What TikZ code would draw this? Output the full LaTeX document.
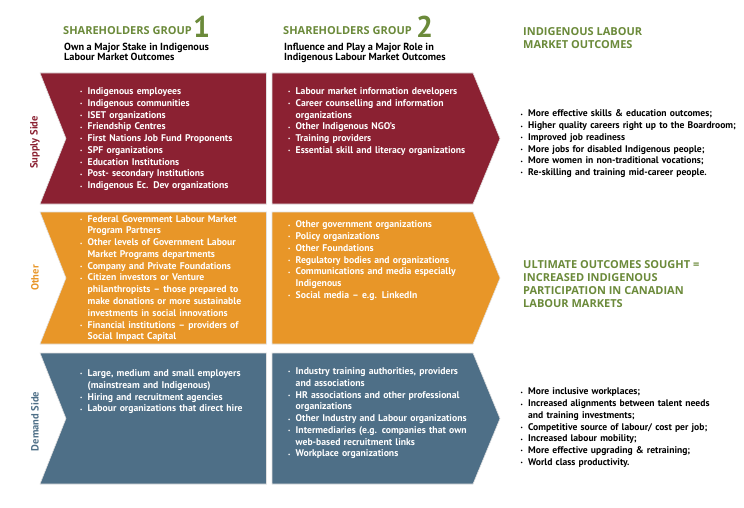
\documentclass[tikz,border=0pt]{standalone}
\usepackage{fontspec}
\setmainfont{PT Sans}
\newfontfamily\headfont{Open Sans}
\definecolor{supplyred}{RGB}{139,33,50}
\definecolor{otherorange}{RGB}{232,150,40}
\definecolor{demandblue}{RGB}{78,111,135}
\definecolor{headgreen}{RGB}{107,138,58}
\newcommand{\itm}{\par\noindent\hangindent=7.5pt\hangafter=1\makebox[7.5pt][l]{\raisebox{.6pt}{\tiny\textbullet}}}

\begin{document}
\begin{tikzpicture}[x=1pt,y=-1pt,
    panel/.style={draw=black!12,line width=0.6pt},
    grouphead/.style={anchor=base west,inner sep=0,text=headgreen,font=\headfont\bfseries\fontsize{11}{13}\selectfont},
    groupnum/.style={anchor=base west,inner sep=0,text=headgreen,font=\bfseries\fontsize{30}{30}\selectfont},
    groupsub/.style={anchor=north west,inner sep=0,align=left,font=\bfseries\fontsize{10.3}{10.7}\selectfont},
    sidelabel/.style={rotate=90,inner sep=0,font=\bfseries\fontsize{10.5}{12}\selectfont},
    paneltext/.style={anchor=north west,inner sep=0,text width=200pt,align=left,text=white,font=\bfseries\fontsize{9.7}{11.78}\selectfont},
    outcome/.style={anchor=north west,inner sep=0,text width=222pt,align=left,font=\bfseries\fontsize{9.6}{11.72}\selectfont},
    ultimate/.style={anchor=north west,inner sep=0,align=left,text=headgreen,font=\headfont\bfseries\fontsize{11}{13.8}\selectfont}]
    \useasboundingbox (0,0) rectangle (744,508);

    \filldraw [panel,fill=supplyred] (40,73) -- (266.5,73) -- (266.5,204) -- (40,204) -- (66,138.5) -- cycle;
    \filldraw [panel,fill=supplyred] (272,73) -- (473,73) -- (500,138.5) -- (473,204) -- (272,204) -- cycle;
    \filldraw [panel,fill=otherorange] (40,212) -- (266.5,212) -- (266.5,344) -- (40,344) -- (66,278) -- cycle;
    \filldraw [panel,fill=otherorange] (272,212) -- (473,212) -- (500,278) -- (473,344) -- (272,344) -- cycle;
    \filldraw [panel,fill=demandblue] (40,353) -- (266.5,353) -- (266.5,484) -- (40,484) -- (66,418.5) -- cycle;
    \filldraw [panel,fill=demandblue] (272,353) -- (473,353) -- (500,418.5) -- (473,484) -- (272,484) -- cycle;

    \node [grouphead] (head1) at (63,35) {SHAREHOLDERS GROUP};
    \node [groupnum] (num1) at (193,37.7) {1};
    \node [groupsub] (sub1) at (64,42.5) {Own a Major Stake in Indigenous\\Labour Market Outcomes};
    \node [grouphead] (head2) at (283,35) {SHAREHOLDERS GROUP};
    \node [groupnum] (num2) at (416,37.7) {2};
    \node [groupsub] (sub2) at (284,42.5) {Influence and Play a Major Role in\\Indigenous Labour Market Outcomes};
    \node [ultimate] (headout) at (523,27) {INDIGENOUS LABOUR\\MARKET OUTCOMES};

    \node [sidelabel,text=supplyred] (supply) at (35,142.5) {Supply Side};
    \node [sidelabel,text=otherorange] (other) at (35,278) {Other};
    \node [sidelabel,text=demandblue] (demand) at (35,421.5) {Demand Side};

    \node [paneltext] (supply1) at (80,82.5) {%
        \itm Indigenous employees
        \itm Indigenous communities
        \itm ISET organizations
        \itm Friendship Centres
        \itm First Nations Job Fund Proponents
        \itm SPF organizations
        \itm Education Institutions
        \itm Post- secondary Institutions
        \itm Indigenous Ec. Dev organizations\par};
    \node [paneltext] (supply2) at (288,82.5) {%
        \itm Labour market information developers
        \itm Career counselling and information\newline organizations
        \itm Other Indigenous NGO’s
        \itm Training providers
        \itm Essential skill and literacy organizations\par};
    \node [outcome] (supplyout) at (520.5,105) {%
        \itm More effective skills \& education outcomes;
        \itm Higher quality careers right up to the Boardroom;
        \itm Improved job readiness
        \itm More jobs for disabled Indigenous people;
        \itm More women in non-traditional vocations;
        \itm Re-skilling and training mid-career people.\par};

    \node [paneltext] (other1) at (80,210.1) {%
        \itm Federal Government Labour Market\newline Program Partners
        \itm Other levels of Government Labour\newline Market Programs departments
        \itm Company and Private Foundations
        \itm Citizen investors or Venture\newline philanthropists – those prepared to\newline make donations or more sustainable\newline investments in social innovations
        \itm Financial institutions – providers of\newline Social Impact Capital\par};
    \node [paneltext] (other2) at (288,215.8) {%
        \itm Other government organizations
        \itm Policy organizations
        \itm Other Foundations
        \itm Regulatory bodies and organizations
        \itm Communications and media especially\newline Indigenous
        \itm Social media – e.g. LinkedIn\par};
    \node [ultimate,font=\headfont\bfseries\fontsize{11}{12.9}\selectfont] (ultimateout) at (523,260.7) {ULTIMATE OUTCOMES SOUGHT =\\INCREASED INDIGENOUS\\PARTICIPATION IN CANADIAN\\LABOUR MARKETS};

    \node [paneltext] (demand1) at (80,364.5) {%
        \itm Large, medium and small employers\newline (mainstream and Indigenous)
        \itm Hiring and recruitment agencies
        \itm Labour organizations that direct hire\par};
    \node [paneltext] (demand2) at (288,362.5) {%
        \itm Industry training authorities, providers\newline and associations
        \itm HR associations and other professional\newline organizations
        \itm Other Industry and Labour organizations
        \itm Intermediaries (e.g. companies that own\newline web-based recruitment links
        \itm Workplace organizations\par};
    \node [outcome] (demandout) at (520.5,383) {%
        \itm More inclusive workplaces;
        \itm Increased alignments between talent needs\newline and training investments;
        \itm Competitive source of labour/ cost per job;
        \itm Increased labour mobility;
        \itm More effective upgrading \& retraining;
        \itm World class productivity.\par};
\end{tikzpicture}
\end{document}
